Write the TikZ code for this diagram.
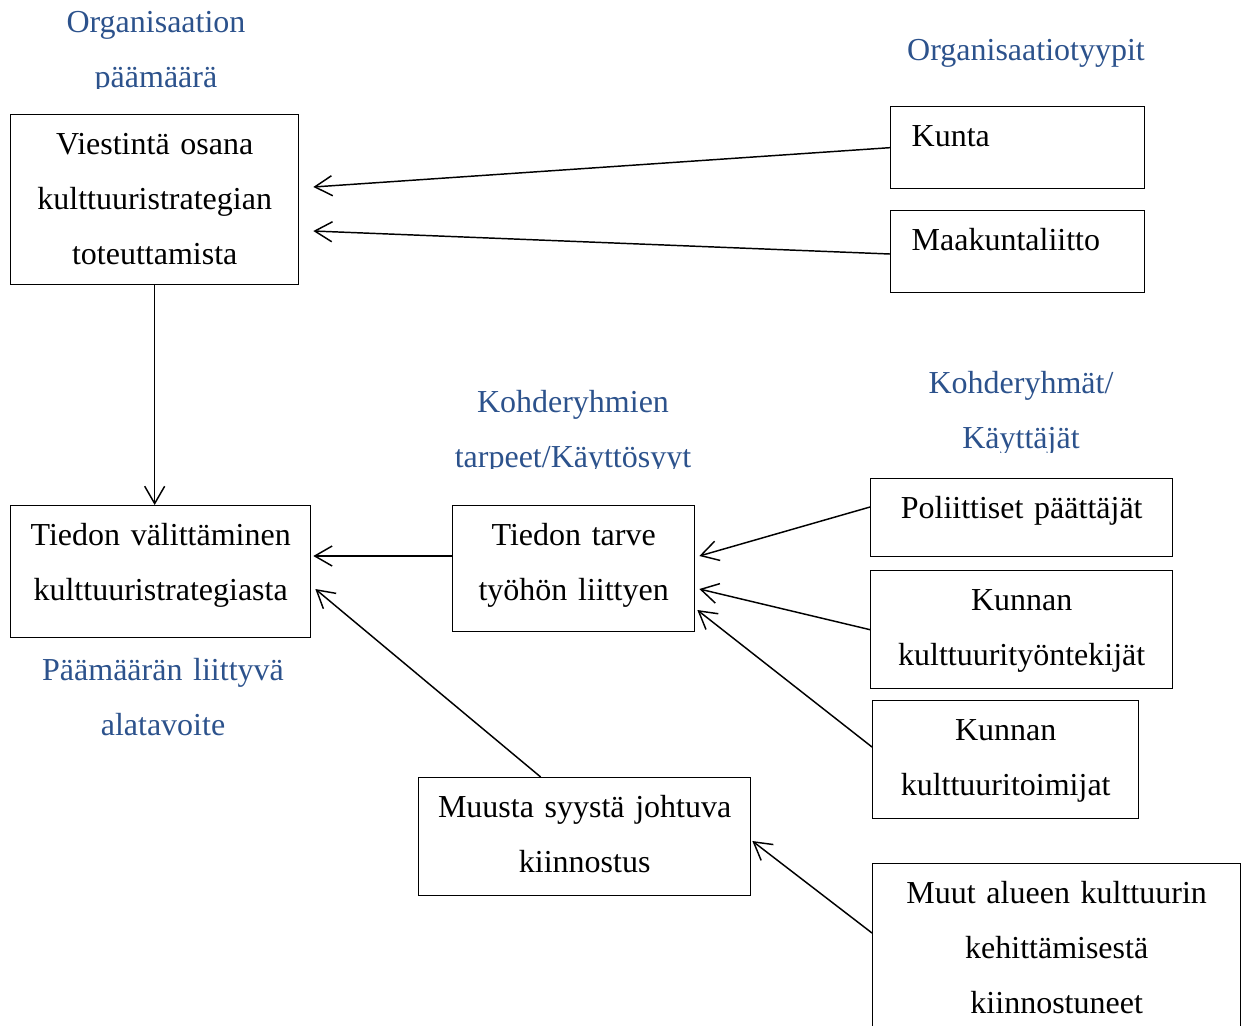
\documentclass[tikz,border=0pt]{standalone}
\usepackage{fontspec}
\setmainfont{Liberation Serif}
\usetikzlibrary{arrows.meta}
\definecolor{labelblue}{RGB}{44,82,140}

\begin{document}
\begin{tikzpicture}[x=0.75pt,y=-0.75pt,
    font=\fontsize{24}{41.25}\selectfont,
    box/.style={draw,line width=1pt,anchor=north west,inner sep=0pt,align=center,text height=29.6pt},
    lbl/.style={text=labelblue,align=center,inner sep=0pt,text width=300pt,anchor=base},
    arr/.style={line width=1.1pt,-{Straight Barb[length=13pt,width=15pt]}}]
\useasboundingbox (0,0) rectangle (1241,1025);
% boxes
\node[box,text width=216pt,minimum height=127.5pt,text depth=97.9pt] (viestinta) at (10,114) {Viestintä osana\\kulttuuristrategian\\toteuttamista};
\node[box,align=left,inner xsep=15.75pt,text width=159pt,minimum height=61.5pt,text depth=31.9pt] (kunta) at (890,106) {Kunta};
\node[box,align=left,inner xsep=15.75pt,text width=159pt,minimum height=61.5pt,text depth=31.9pt] (maakunta) at (890,210) {Maakuntaliitto};
\node[box,text width=225pt,minimum height=99pt,text depth=69.4pt] (valittaminen) at (10,505) {Tiedon välittäminen\\kulttuuristrategiasta};
\node[box,text width=181.5pt,minimum height=94.5pt,text depth=64.9pt] (tarve) at (452,505) {Tiedon tarve\\työhön liittyen};
\node[box,text width=226.5pt,minimum height=58.5pt,text depth=28.9pt] (poliittiset) at (870,478) {Poliittiset päättäjät};
\node[box,text width=226.5pt,minimum height=88.5pt,text depth=58.9pt] (tyontekijat) at (870,570) {Kunnan\\kulttuurityöntekijät};
\node[box,text width=199.5pt,minimum height=88.5pt,text depth=58.9pt] (toimijat) at (872,700) {Kunnan\\kulttuuritoimijat};
\node[box,text width=249pt,minimum height=88.5pt,text depth=58.9pt] (muusta) at (418,777) {Muusta syystä johtuva\\kiinnostus};
\node[box,text width=276pt,minimum height=135pt,text depth=105.4pt] (muut) at (872,863) {Muut alueen kulttuurin\\kehittämisestä\\kiinnostuneet};
% blue labels
\begin{scope}
  \clip (0,0) rectangle (400,88);
  \node[lbl] (paamaara) at (156,32) {Organisaation\\päämäärä};
\end{scope}
\node[lbl] (orgtyypit) at (1026,60) {Organisaatiotyypit};
\begin{scope}
  \clip (300,300) rectangle (860,468);
  \node[lbl] (tarpeet) at (573,412) {Kohderyhmien\\tarpeet/Käyttösyyt};
\end{scope}
\begin{scope}
  \clip (860,300) rectangle (1241,452);
  \node[lbl] (kayttajat) at (1021,393) {Kohderyhmät/\\Käyttäjät};
\end{scope}
\node[lbl] (alatavoite) at (163,680) {Päämäärän liittyvä\\alatavoite};
% arrows
\draw[arr] (kunta.west) -- ([shift={(14,73)}]viestinta.north east);
\draw[arr] ([shift={(0,44)}]maakunta.north west) -- ([shift={(14,117)}]viestinta.north east);
\draw[arr] (viestinta.south) -- (viestinta.south |- valittaminen.north);
\draw[arr] ([shift={(0,51)}]tarve.north west) -- ([shift={(2,51)}]valittaminen.north east);
\draw[arr] ([shift={(-44,0)}]muusta.north) -- ([shift={(4,84)}]valittaminen.north east);
\draw[arr] ([shift={(0,29)}]poliittiset.north west) -- ([shift={(4,51)}]tarve.north east);
\draw[arr] (tyontekijat.west) -- ([shift={(4,84)}]tarve.north east);
\draw[arr] ([shift={(0,47)}]toimijat.north west) -- ([shift={(2,105)}]tarve.north east);
\draw[arr] ([shift={(0,70)}]muut.north west) -- ([shift={(1,64)}]muusta.north east);
\end{tikzpicture}
\end{document}
